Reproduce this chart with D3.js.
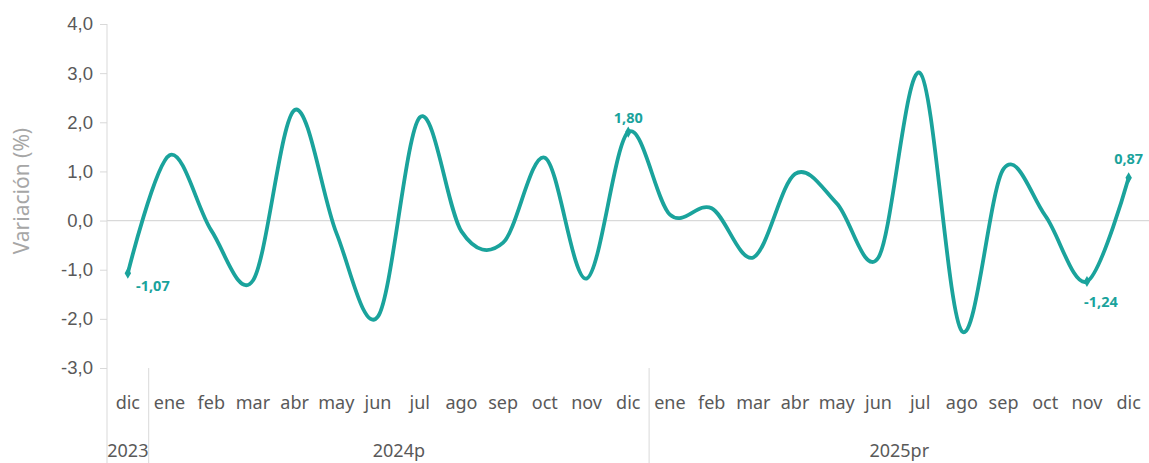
<!DOCTYPE html>
<html>
<head>
<meta charset="utf-8">
<script src="https://cdn.jsdelivr.net/npm/d3@7"></script>
<style>
  body { margin: 0; background: #fff; }
  svg { display: block; font-family: "Noto Sans", "Open Sans", sans-serif; }
</style>
</head>
<body>
<div id="chart"></div>
<script>
const months = ['dic',
  'ene','feb','mar','abr','may','jun','jul','ago','sep','oct','nov','dic',
  'ene','feb','mar','abr','may','jun','jul','ago','sep','oct','nov','dic'];

const values = [-1.07,
  1.33, -0.20, -1.22, 2.25, -0.25, -1.95, 2.10, -0.22, -0.45, 1.28, -1.18, 1.80,
  0.12, 0.25, -0.75, 0.95, 0.35, -0.75, 3.00, -2.25, 1.05, 0.10, -1.24, 0.87];

// years: label, first index, last index
const years = [
  {label: '2023',   from: 0,  to: 0},
  {label: '2024p',  from: 1,  to: 12},
  {label: '2025pr', from: 13, to: 24}
];

const yTicks = [-3, -2, -1, 0, 1, 2, 3, 4];

// points that carry a data label
const labelled = [0, 12, 23, 24];

const W = 1149, H = 463;
const lineColor = '#1aa39c';

const svg = d3.select('#chart').append('svg')
    .attr('width', W)
    .attr('height', H);

const x = d3.scaleBand()
    .domain(d3.range(values.length))
    .range([107, 1149.5]);

const y = d3.scaleLinear()
    .domain([-3, 4])
    .range([368, 24]);

const cx = i => x(i) + x.bandwidth() / 2;
const fmt = v => d3.format('.1f')(v).replace('.', ',').replace('−', '-');
const fmt2 = v => d3.format('.2f')(v).replace('.', ',').replace('−', '-');

// y axis
const yAxis = d3.axisLeft(y).tickValues(yTicks).tickSize(7).tickFormat(fmt);
const gy = svg.append('g')
    .attr('transform', 'translate(107,0)')
    .call(yAxis);
gy.select('.domain').remove();
gy.selectAll('.tick line').attr('stroke', '#d9d9d9');
gy.selectAll('.tick text')
    .attr('x', -14)
    .attr('fill', '#595959')
    .attr('font-size', '18.5px');

// axis line down through the category area
svg.append('line')
    .attr('x1', 107).attr('x2', 107)
    .attr('y1', y(4)).attr('y2', H)
    .attr('stroke', '#d9d9d9');

// zero line
svg.append('line')
    .attr('x1', 107).attr('x2', 1149)
    .attr('y1', y(0)).attr('y2', y(0))
    .attr('stroke', '#d9d9d9')
    .attr('stroke-width', 1.2);

// year separators
years.forEach(function(d) {
    svg.append('line')
        .attr('x1', x(d.to) + x.bandwidth()).attr('x2', x(d.to) + x.bandwidth())
        .attr('y1', y(-3)).attr('y2', H)
        .attr('stroke', '#d9d9d9');
});

// month labels
svg.append('g').selectAll('text')
    .data(months)
    .enter().append('text')
    .attr('x', (d, i) => cx(i))
    .attr('y', 409)
    .attr('text-anchor', 'middle')
    .attr('fill', '#595959')
    .attr('font-size', '18px')
    .text(d => d);

// year labels
svg.append('g').selectAll('text')
    .data(years)
    .enter().append('text')
    .attr('x', d => (x(d.from) + x(d.to) + x.bandwidth()) / 2)
    .attr('y', 457)
    .attr('text-anchor', 'middle')
    .attr('fill', '#595959')
    .attr('font-size', '18px')
    .text(d => d.label);

// y title
svg.append('text')
    .attr('transform', 'translate(29,' + y(0.6) + ') rotate(-90)')
    .attr('text-anchor', 'middle')
    .attr('fill', '#a6a6a6')
    .attr('font-size', '21px')
    .text('Variación (%)');

// line
const line = d3.line()
    .x((d, i) => cx(i))
    .y(d => y(d))
    .curve(d3.curveCatmullRom.alpha(0));

svg.append('path')
    .datum(values)
    .attr('fill', 'none')
    .attr('stroke', lineColor)
    .attr('stroke-width', 3.8)
    .attr('stroke-linejoin', 'round')
    .attr('d', line);

// markers and data labels
const offs = {0: [25, 14], 12: [0, -13], 23: [14, 22], 24: [0, -18]};

svg.append('g').selectAll('path')
    .data(labelled)
    .enter().append('path')
    .attr('d', d3.symbol(d3.symbolDiamond).size(36))
    .attr('transform', i => 'translate(' + cx(i) + ',' + y(values[i]) + ')')
    .attr('fill', lineColor);

svg.append('g').selectAll('text')
    .data(labelled)
    .enter().append('text')
    .attr('x', i => cx(i) + offs[i][0])
    .attr('y', i => y(values[i]) + offs[i][1])
    .attr('text-anchor', 'middle')
    .attr('dominant-baseline', 'middle')
    .attr('fill', lineColor)
    .attr('font-size', '14.5px')
    .attr('font-weight', 'bold')
    .text(i => fmt2(values[i]));
</script>
</body>
</html>
